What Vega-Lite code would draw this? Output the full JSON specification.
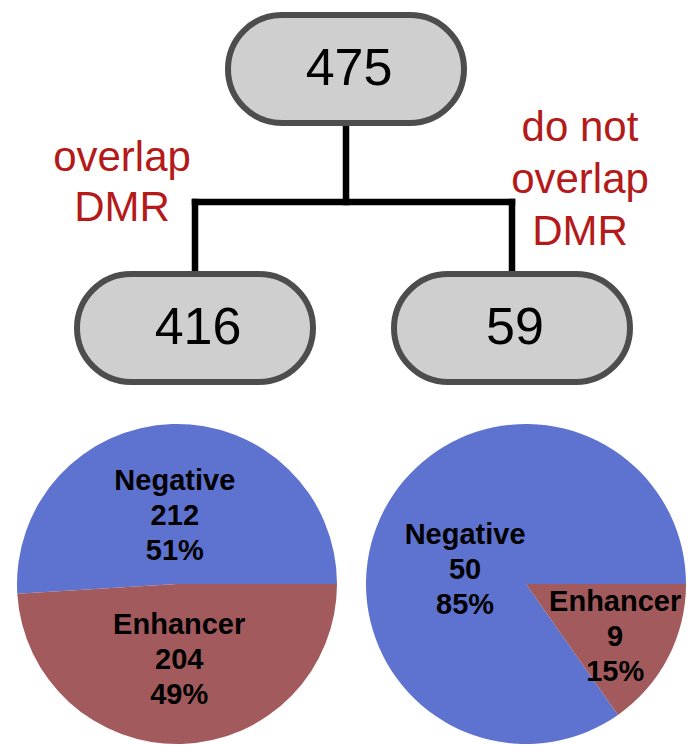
{
  "$schema": "https://vega.github.io/schema/vega-lite/v6.json",
  "width": 689,
  "height": 745,
  "autosize": "none",
  "padding": 0,
  "background": "white",
  "config": {"view": {"stroke": null}, "axis": {"disable": true}, "legend": {"disable": true}},
  "datasets": {
    "nodes": [
      {"id": "all", "branch": 0, "level": 0, "count": "475"},
      {"id": "overlap DMR", "branch": -1, "level": 1, "count": "416"},
      {"id": "do not overlap DMR", "branch": 1, "level": 1, "count": "59"}
    ],
    "edges": [
      {"branch": 0, "level": 0, "branch2": 0, "level2": 0.5},
      {"branch": -1, "level": 0.5, "branch2": 1, "level2": 0.5},
      {"branch": -1, "level": 0.5, "branch2": -1, "level2": 1},
      {"branch": 1, "level": 0.5, "branch2": 1, "level2": 1}
    ],
    "sides": [
      {"branch": -1, "level": 0.5, "text": "overlap\nDMR"},
      {"branch": 1, "level": 0.5, "text": "do not\noverlap\nDMR"}
    ],
    "pies": [
      {"branch": -1, "level": 2, "class": "Negative", "rank": 2, "n": 212, "label": "Negative\n212\n51%"},
      {"branch": -1, "level": 2, "class": "Enhancer", "rank": 1, "n": 204, "label": "Enhancer\n204\n49%"},
      {"branch": 1, "level": 2, "class": "Negative", "rank": 2, "n": 50, "label": "Negative\n50\n85%"},
      {"branch": 1, "level": 2, "class": "Enhancer", "rank": 1, "n": 9, "label": "Enhancer\n9\n15%"}
    ]
  },
  "layer": [
    {
      "layer": [
        {
          "data": {"name": "edges"},
          "mark": {"type": "rule", "stroke": "black", "strokeWidth": 6.5, "strokeCap": "square"},
          "encoding": {
            "x": {"field": "branch", "type": "quantitative", "scale": {"domain": [-1, 0, 1], "range": [195, 346, 512], "nice": false, "zero": false}},
            "x2": {"field": "branch2"},
            "y": {"field": "level", "type": "quantitative", "scale": {"domain": [0, 0.5, 1, 2], "range": [69, 202, 328, 584], "nice": false, "zero": false}},
            "y2": {"field": "level2"}
          }
        },
        {
          "data": {"name": "nodes"},
          "mark": {"type": "rect", "fill": "#cfcfcf", "stroke": "#4d4d4d", "strokeWidth": 6, "cornerRadius": 54, "xOffset": -118, "x2Offset": 118, "yOffset": -54, "y2Offset": 54},
          "encoding": {
            "x": {"field": "branch", "type": "quantitative"},
            "x2": {"field": "branch"},
            "y": {"field": "level", "type": "quantitative"},
            "y2": {"field": "level"}
          }
        },
        {
          "data": {"name": "nodes"},
          "mark": {"type": "text", "font": "Liberation Sans", "fontSize": 52, "color": "black", "align": "center", "baseline": "middle", "dx": 3, "dy": 0},
          "encoding": {
            "x": {"field": "branch", "type": "quantitative"},
            "y": {"field": "level", "type": "quantitative"},
            "text": {"field": "count", "type": "nominal"}
          }
        },
        {
          "data": {"name": "sides"},
          "transform": [{"filter": "datum.branch < 0"}],
          "mark": {"type": "text", "font": "Liberation Sans", "fontSize": 42, "lineHeight": 50, "lineBreak": "\n", "color": "#b41a1a", "align": "center", "baseline": "middle", "dx": -73, "dy": -44},
          "encoding": {
            "x": {"field": "branch", "type": "quantitative"},
            "y": {"field": "level", "type": "quantitative"},
            "text": {"field": "text", "type": "nominal"}
          }
        },
        {
          "data": {"name": "sides"},
          "transform": [{"filter": "datum.branch > 0"}],
          "mark": {"type": "text", "font": "Liberation Sans", "fontSize": 42, "lineHeight": 52, "lineBreak": "\n", "color": "#b41a1a", "align": "center", "baseline": "middle", "dx": 68, "dy": -74},
          "encoding": {
            "x": {"field": "branch", "type": "quantitative"},
            "y": {"field": "level", "type": "quantitative"},
            "text": {"field": "text", "type": "nominal"}
          }
        }
      ]
    },
    {
      "data": {"name": "pies"},
      "layer": [
        {
          "transform": [{"filter": "datum.branch < 0"}],
          "layer": [
            {
              "mark": {"type": "arc", "radius": 160},
              "encoding": {
                "x": {"field": "branch", "type": "quantitative", "scale": {"domain": [-1, 1], "range": [177, 526], "nice": false, "zero": false}},
                "y": {"field": "level", "type": "quantitative"},
                "theta": {"field": "n", "type": "quantitative", "stack": "normalize", "scale": {"domain": [0, 1], "range": [1.5708, 7.854]}},
                "color": {"field": "class", "type": "nominal", "scale": {"domain": ["Negative", "Enhancer"], "range": ["#5e72cf", "#a35a5c"]}},
                "order": {"field": "rank", "type": "quantitative"}
              }
            },
            {
              "mark": {"type": "text", "radius": 72.5, "dy": -31, "font": "Liberation Sans", "fontWeight": "bold", "fontSize": 29, "lineHeight": 35, "lineBreak": "\n", "color": "black", "align": "center", "baseline": "middle"},
              "encoding": {
                "x": {"field": "branch", "type": "quantitative"},
                "y": {"field": "level", "type": "quantitative"},
                "theta": {"field": "n", "type": "quantitative", "stack": "normalize"},
                "detail": {"field": "class", "type": "nominal"},
                "order": {"field": "rank", "type": "quantitative"},
                "text": {"field": "label", "type": "nominal"}
              }
            }
          ]
        },
        {
          "transform": [{"filter": "datum.branch > 0"}],
          "layer": [
            {
              "mark": {"type": "arc", "radius": 160},
              "encoding": {
                "x": {"field": "branch", "type": "quantitative"},
                "y": {"field": "level", "type": "quantitative"},
                "theta": {"field": "n", "type": "quantitative", "stack": "normalize"},
                "color": {"field": "class", "type": "nominal"},
                "order": {"field": "rank", "type": "quantitative"}
              }
            },
            {
              "mark": {"type": "text", "radius": 63, "dx": -5, "dy": -20, "font": "Liberation Sans", "fontWeight": "bold", "fontSize": 29, "lineHeight": 35, "lineBreak": "\n", "color": "black", "align": "center", "baseline": "middle"},
              "encoding": {
                "x": {"field": "branch", "type": "quantitative"},
                "y": {"field": "level", "type": "quantitative"},
                "theta": {"field": "n", "type": "quantitative", "stack": "normalize"},
                "detail": {"field": "class", "type": "nominal"},
                "order": {"field": "rank", "type": "quantitative"},
                "opacity": {"condition": {"test": "datum.class === 'Negative'", "value": 1}, "value": 0},
                "text": {"field": "label", "type": "nominal"}
              }
            },
            {
              "mark": {"type": "text", "radius": 105, "dx": -4, "dy": -30, "font": "Liberation Sans", "fontWeight": "bold", "fontSize": 29, "lineHeight": 35, "lineBreak": "\n", "color": "black", "align": "center", "baseline": "middle"},
              "encoding": {
                "x": {"field": "branch", "type": "quantitative"},
                "y": {"field": "level", "type": "quantitative"},
                "theta": {"field": "n", "type": "quantitative", "stack": "normalize"},
                "detail": {"field": "class", "type": "nominal"},
                "order": {"field": "rank", "type": "quantitative"},
                "opacity": {"condition": {"test": "datum.class === 'Enhancer'", "value": 1}, "value": 0},
                "text": {"field": "label", "type": "nominal"}
              }
            }
          ]
        }
      ]
    }
  ],
  "resolve": {"scale": {"x": "independent"}}
}
